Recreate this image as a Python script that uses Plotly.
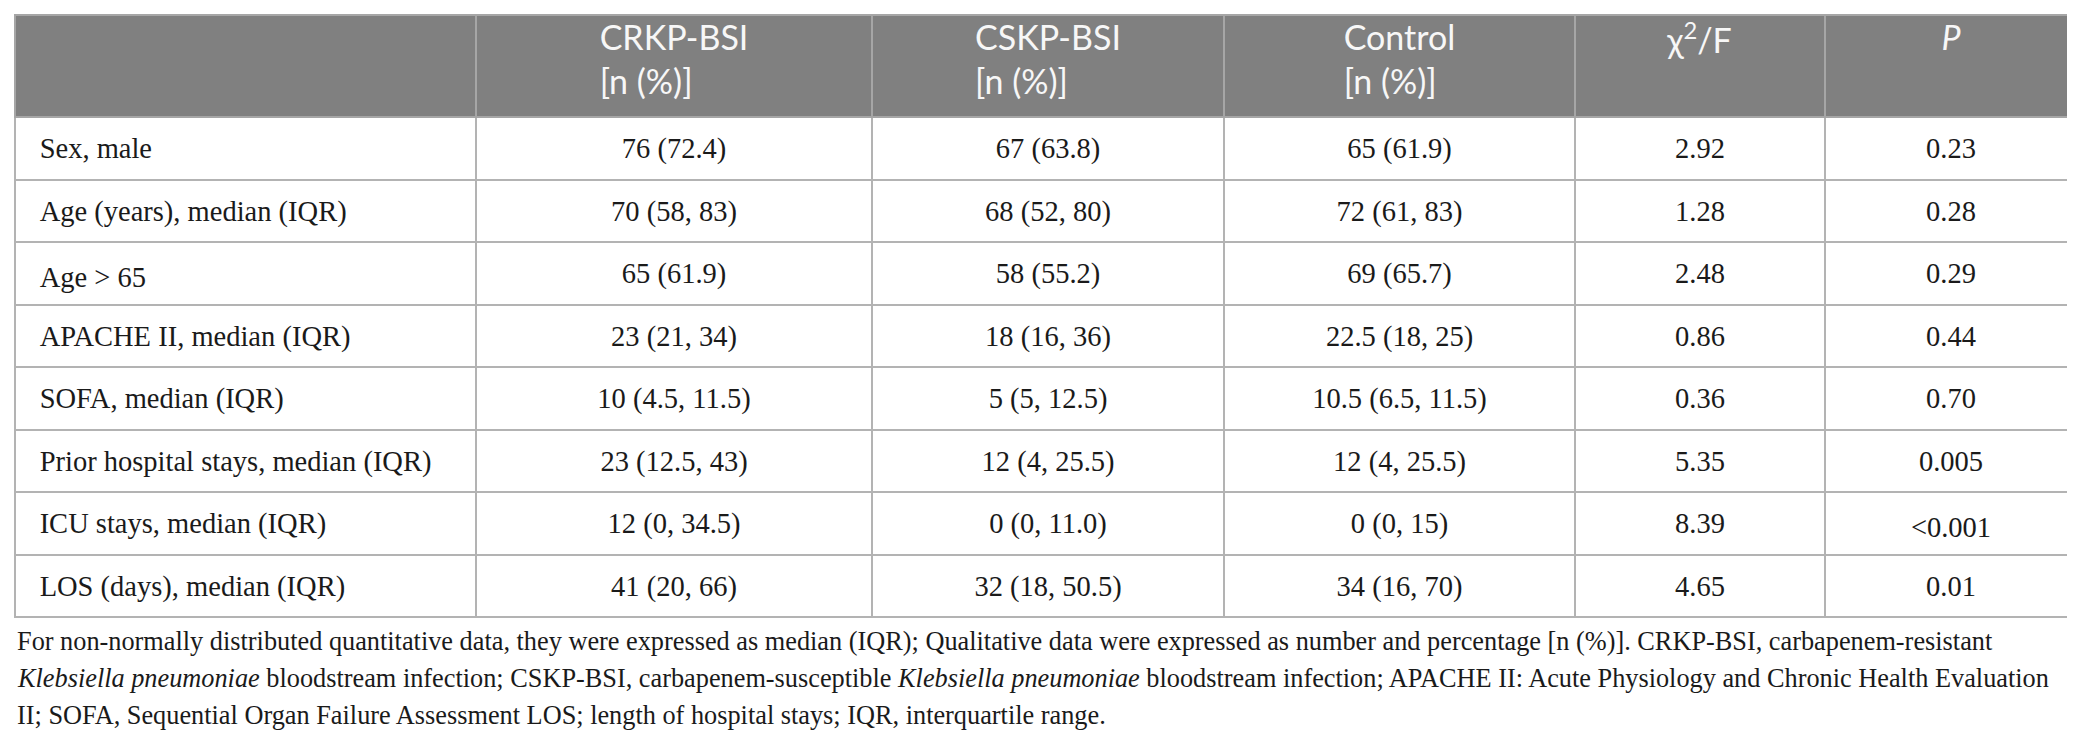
import plotly.graph_objects as go

# Table content
headers = ["", "CRKP-BSI<br>[n (%)]", "CSKP-BSI<br>[n (%)]", "Control<br>[n (%)]", "χ<sup>2</sup>/F", "<i>P</i>"]
row_labels = [
    "Sex, male",
    "Age (years), median (IQR)",
    "Age > 65",
    "APACHE II, median (IQR)",
    "SOFA, median (IQR)",
    "Prior hospital stays, median (IQR)",
    "ICU stays, median (IQR)",
    "LOS (days), median (IQR)",
]
crkp = ["76 (72.4)", "70 (58, 83)", "65 (61.9)", "23 (21, 34)", "10 (4.5, 11.5)", "23 (12.5, 43)", "12 (0, 34.5)", "41 (20, 66)"]
cskp = ["67 (63.8)", "68 (52, 80)", "58 (55.2)", "18 (16, 36)", "5 (5, 12.5)", "12 (4, 25.5)", "0 (0, 11.0)", "32 (18, 50.5)"]
control = ["65 (61.9)", "72 (61, 83)", "69 (65.7)", "22.5 (18, 25)", "10.5 (6.5, 11.5)", "12 (4, 25.5)", "0 (0, 15)", "34 (16, 70)"]
chi_f = ["2.92", "1.28", "2.48", "0.86", "0.36", "5.35", "8.39", "4.65"]
p_values = ["0.23", "0.28", "0.29", "0.44", "0.70", "0.005", "<0.001", "0.01"]

footnote_lines = [
    "For non-normally distributed quantitative data, they were expressed as median (IQR); Qualitative data were expressed as number and percentage [n (%)]. CRKP-BSI, carbapenem-resistant",
    "<i>Klebsiella pneumoniae</i> bloodstream infection; CSKP-BSI, carbapenem-susceptible <i>Klebsiella pneumoniae</i> bloodstream infection; APACHE II: Acute Physiology and Chronic Health Evaluation",
    "II; SOFA, Sequential Organ Failure Assessment LOS; length of hospital stays; IQR, interquartile range.",
]

W, H = 2075, 736
col_widths = [461, 396, 352, 351, 250, 252]
header_h = 102
row_h = 62.5
serif = "Liberation Serif"
x_dom = [7 / W, 2069 / W]

columns = [row_labels, crkp, cskp, control, chi_f, p_values]
n_rows = len(row_labels)

fig = go.Figure()

# grid: fills and cell borders only
fig.add_trace(
    go.Table(
        columnwidth=col_widths,
        header=dict(
            values=[""] * len(headers),
            fill_color="#808080",
            line=dict(color="#a6a6a6", width=2),
            height=header_h,
        ),
        cells=dict(
            values=[[""] * n_rows for _ in columns],
            fill_color="white",
            line=dict(color="#b3b3b3", width=2),
            height=row_h,
        ),
        domain=dict(x=x_dom, y=[0, 1 - 7 / H]),
    )
)

# text layer, offset so header text sits high and body text is centred in its row
label_pad = "\u00a0\u00a0\u200a"
fig.add_trace(
    go.Table(
        columnwidth=col_widths,
        header=dict(
            values=headers,
            fill_color="rgba(0,0,0,0)",
            line=dict(color="rgba(0,0,0,0)", width=0),
            font=dict(family="Lato", size=34, color="#f7f7f7"),
            align="center",
            height=header_h + 19,
        ),
        cells=dict(
            values=[[label_pad + s for s in row_labels]] + columns[1:],
            fill_color="rgba(0,0,0,0)",
            line=dict(color="rgba(0,0,0,0)", width=0),
            font=dict(family=serif, size=28.5, color="#1a1a1a"),
            align=["left", "center", "center", "center", "center", "center"],
            height=row_h,
        ),
        domain=dict(x=x_dom, y=[0, 1]),
    )
)

# Footnote below the table
for i, line in enumerate(footnote_lines):
    fig.add_annotation(
        text=line,
        xref="paper", yref="paper",
        x=7 / W, y=1 - (633 + 37 * i) / H,
        xanchor="left", yanchor="middle",
        showarrow=False,
        font=dict(family=serif, size=26.3, color="#1a1a1a"),
    )

fig.update_layout(
    width=W,
    height=H,
    margin=dict(l=0, r=0, t=0, b=0),
    paper_bgcolor="white",
    plot_bgcolor="white",
)

fig.write_html("out.html")
